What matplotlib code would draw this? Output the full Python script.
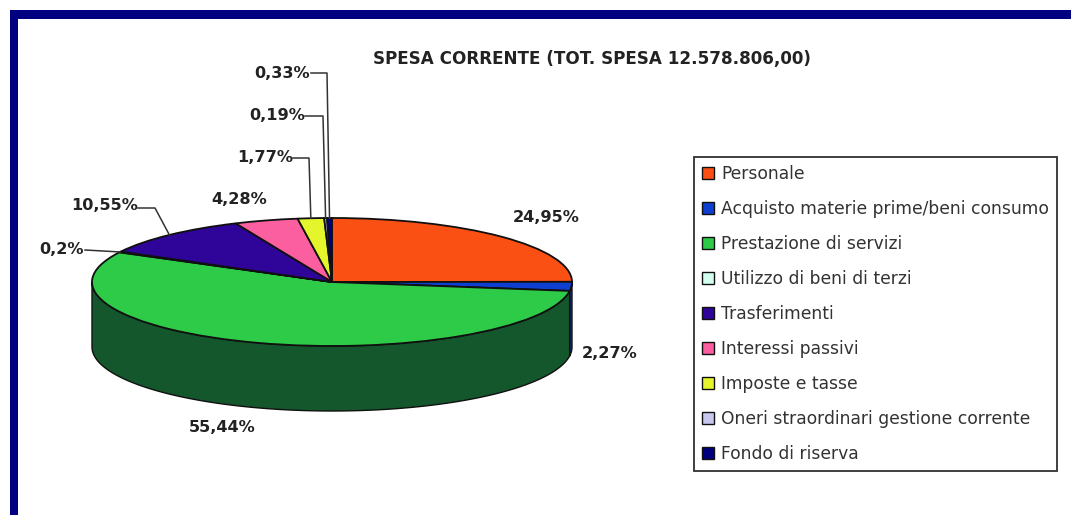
import numpy as np
import matplotlib
matplotlib.use("Agg")
import matplotlib.pyplot as plt

plt.rcParams["font.family"] = ["DejaVu Sans"]

categorie = ["Personale", "Acquisto materie prime/beni consumo", "Prestazione di servizi",
             "Utilizzo di beni di terzi", "Trasferimenti", "Interessi passivi",
             "Imposte e tasse", "Oneri straordinari gestione corrente", "Fondo di riserva"]
valori = [24.95, 2.27, 55.44, 0.2, 10.55, 4.28, 1.77, 0.19, 0.33]
etichette = ["24,95%", "2,27%", "55,44%", "0,2%", "10,55%", "4,28%", "1,77%", "0,19%", "0,33%"]
colori = ["#fb5014", "#0f3fd0", "#2ecb48", "#d2fff0", "#2f0498",
          "#fb5fa0", "#e4f52c", "#c8c8ee", "#00007e"]
colori_lato = {1: "#0f35b0", 2: "#14572c"}
titolo = "SPESA CORRENTE (TOT. SPESA 12.578.806,00)"

W, H = 1071, 515
CX, CY, RX, RY, DEPTH = 332, 282, 240, 64, 65

fig = plt.figure(figsize=(W / 100, H / 100), dpi=100, facecolor="white")

# livello di sfondo in pixel: cornice, titolo, etichette
bg = fig.add_axes([0, 0, 1, 1])
bg.set_xlim(0, W)
bg.set_ylim(H, 0)
bg.axis("off")
bg.fill_between([10, W], 10, 19, color="#000080", lw=0)
bg.fill_between([10, 18], 10, H, color="#000080", lw=0)

# torta: il cerchio unitario diventa ellisse perche gli assi sono schiacciati
ax = fig.add_axes([(CX - RX) / W, 1 - (CY + RY) / H, 2 * RX / W, 2 * RY / H])
wedges, _ = ax.pie(valori, colors=colori, startangle=90, counterclock=False,
                   wedgeprops={"edgecolor": "#101010", "linewidth": 1.3, "clip_on": False})
ax.set_aspect("auto")
ax.set_xlim(-1, 1)
ax.set_ylim(-1, 1)
ax.patch.set_alpha(0)

# parete laterale visibile (meta inferiore dell'ellisse)
d = DEPTH / RY
for i, w in enumerate(wedges):
    for k in (0, 360):
        lo, hi = max(w.theta1 + k, 180), min(w.theta2 + k, 360)
        if hi > lo:
            t = np.radians(np.linspace(lo, hi, 120))
            xs = np.concatenate([np.cos(t), np.cos(t[::-1])])
            ys = np.concatenate([np.sin(t), np.sin(t[::-1]) - d])
            ax.fill(xs, ys, facecolor=colori_lato.get(i, colori[i]), edgecolor="#101010",
                    linewidth=1.0, clip_on=False, zorder=0)

# overlay per testi e linee guida
ov = fig.add_axes([0, 0, 1, 1])
ov.set_xlim(0, W)
ov.set_ylim(H, 0)
ov.axis("off")
ov.patch.set_alpha(0)

ov.text(592, 59, titolo, ha="center", va="center", fontsize=12.1, fontweight="bold", color="#222222")

pos_etichette = [(546, 218), (610, 354), (222, 427), (62, 250), (105, 206),
                 (239, 200), (265, 158), (277, 115), (282, 73)]
for testo, (x, y) in zip(etichette, pos_etichette):
    ov.text(x, y, testo, ha="center", va="center", fontsize=11.6, fontweight="bold", color="#222222")

# linee guida: indice fetta -> punti di partenza e gomito
guide = {3: [(85, 250)], 4: [(138, 208), (155, 208)], 6: [(293, 158), (309, 158)],
         7: [(305, 116), (323, 116)], 8: [(311, 73), (327, 73)]}
for i, punti in guide.items():
    a = np.radians((wedges[i].theta1 + wedges[i].theta2) / 2)
    fine = (CX + RX * np.cos(a), CY - RY * np.sin(a))
    px, py = zip(*(punti + [fine]))
    ov.plot(px, py, color="#333333", lw=1.1)

leg = ov.legend(wedges, categorie, loc="upper left", bbox_to_anchor=(694 / W, 1 - 157 / H),
                bbox_transform=fig.transFigure, fontsize=12.3, frameon=True, fancybox=False,
                edgecolor="#303030", framealpha=1, borderaxespad=0, borderpad=0.45,
                labelspacing=1.0, handlelength=0.72, handleheight=0.72, handletextpad=0.42,
                labelcolor="#333333")
leg.get_frame().set_linewidth(1.3)
for h in leg.get_patches():
    h.set_linewidth(1.0)

fig.savefig("out.png", dpi=100)
